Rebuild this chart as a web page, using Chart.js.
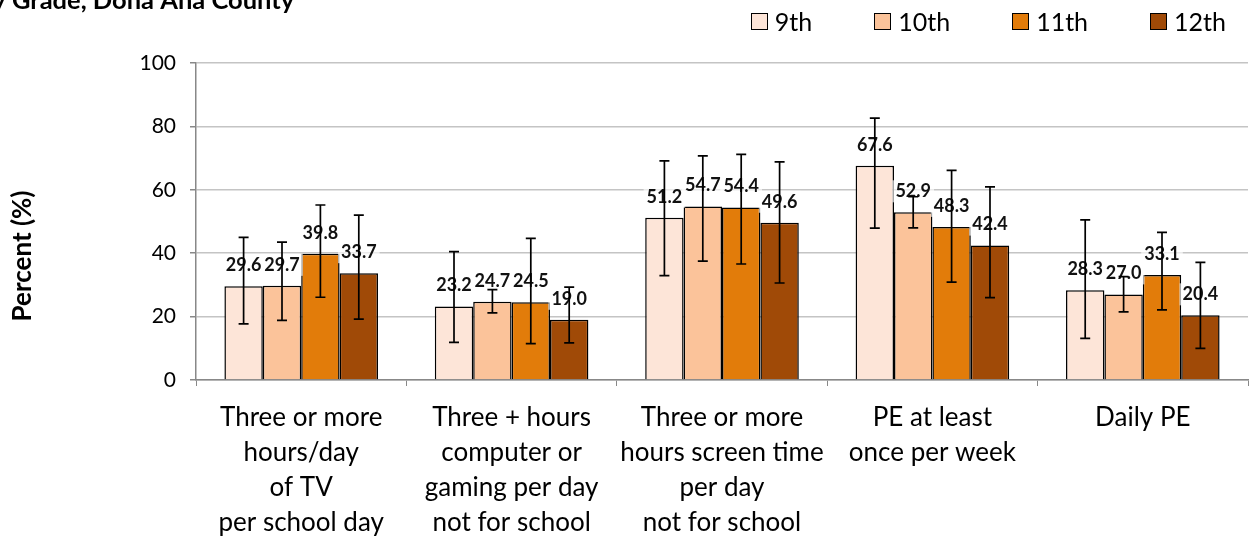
<!DOCTYPE html>
<html>
<head>
<meta charset="utf-8">
<script src="https://cdn.jsdelivr.net/npm/chart.js@4.4.1/dist/chart.umd.min.js"></script>
<style>
  body { margin: 0; background: #fff; }
  #wrap { position: relative; width: 1249px; height: 537px; overflow: hidden; }
  #legend { position: absolute; top: 5px; right: 23px; display: flex; font: 25px/32px Lato, sans-serif; color: #000; }
  #legend .item { display: flex; align-items: center; margin-left: 62px; }
  #legend .item:first-child { margin-left: 0; }
  #legend .box { width: 15px; height: 15px; border: 1.5px solid #000; margin-right: 7px; }
</style>
</head>
<body>
<div id="wrap">
  <canvas id="myChart" width="1249" height="537"></canvas>
  <div id="legend"></div>
</div>
<script>
const categories = [
  ['Three or more', 'hours/day', 'of TV', 'per school day'],
  ['Three + hours', 'computer or', 'gaming per day', 'not for school'],
  ['Three or more', 'hours screen time', 'per day', 'not for school'],
  ['PE at least', 'once per week'],
  ['Daily PE']
];
const grades = ['9th', '10th', '11th', '12th'];
const colors = ['#FDE5D8', '#FBC39A', '#E27C0A', '#A04A07'];

const grade9 = [29.6, 23.2, 51.2, 67.6, 28.3];
const grade10 = [29.7, 24.7, 54.7, 52.9, 27.0];
const grade11 = [39.8, 24.5, 54.4, 48.3, 33.1];
const grade12 = [33.7, 19.0, 49.6, 42.4, 20.4];

// 95% confidence limits
const low9 = [17.7, 11.9, 32.9, 47.9, 13.1];
const high9 = [45.0, 40.5, 69.1, 82.6, 50.5];
const low10 = [18.8, 21.2, 37.5, 48.0, 21.5];
const high10 = [43.5, 28.5, 70.7, 57.8, 32.6];
const low11 = [26.1, 11.5, 36.6, 30.9, 22.1];
const high11 = [55.2, 44.7, 71.2, 66.1, 46.6];
const low12 = [19.2, 11.7, 30.6, 26.0, 10.0];
const high12 = [52.0, 29.3, 68.8, 60.9, 37.1];

const yTicks = [0, 20, 40, 60, 80, 100];
const titleText = 'by Grade, Dona Ana County';
const yTitle = 'Percent (%)';

const values = [grade9, grade10, grade11, grade12];
const lows = [low9, low10, low11, low12];
const highs = [high9, high10, high11, high12];

// legend
const legend = document.getElementById('legend');
grades.forEach((g, i) => {
  const item = document.createElement('div');
  item.className = 'item';
  const box = document.createElement('div');
  box.className = 'box';
  box.style.background = colors[i];
  const txt = document.createElement('span');
  txt.textContent = g;
  item.appendChild(box);
  item.appendChild(txt);
  legend.appendChild(item);
});

const extras = {
  id: 'extras',
  afterDatasetsDraw(chart) {
    const ctx = chart.ctx;
    const y = chart.scales.y;
    ctx.save();
    // value labels
    ctx.font = 'bold 18px Lato, sans-serif';
    ctx.textAlign = 'center';
    ctx.textBaseline = 'middle';
    chart.data.datasets.forEach((ds, i) => {
      chart.getDatasetMeta(i).data.forEach((bar, j) => {
        const t = ds.data[j].toFixed(1);
        const cy = bar.y - 21;
        const w = ctx.measureText(t).width;
        ctx.fillStyle = 'rgba(255,255,255,0.65)';
        ctx.fillRect(bar.x - w / 2 - 3, cy - 11, w + 6, 22);
        ctx.fillStyle = '#111';
        ctx.fillText(t, bar.x, cy);
      });
    });
    // error bars
    ctx.strokeStyle = '#000';
    ctx.lineWidth = 1.7;
    chart.data.datasets.forEach((ds, i) => {
      chart.getDatasetMeta(i).data.forEach((bar, j) => {
        const top = y.getPixelForValue(highs[i][j]);
        const bot = y.getPixelForValue(lows[i][j]);
        ctx.beginPath();
        ctx.moveTo(bar.x, top); ctx.lineTo(bar.x, bot);
        ctx.moveTo(bar.x - 5, top); ctx.lineTo(bar.x + 5, top);
        ctx.moveTo(bar.x - 5, bot); ctx.lineTo(bar.x + 5, bot);
        ctx.stroke();
      });
    });
    // clipped title
    ctx.font = 'bold 25.5px Lato, sans-serif';
    ctx.textAlign = 'left';
    ctx.textBaseline = 'alphabetic';
    ctx.fillStyle = '#000';
    ctx.fillText(titleText, 12 - ctx.measureText('by ').width, 9);
    // y axis title
    ctx.translate(23, 256);
    ctx.rotate(-Math.PI / 2);
    ctx.font = 'bold 26px Lato, sans-serif';
    ctx.textAlign = 'center';
    ctx.textBaseline = 'middle';
    ctx.fillText(yTitle, 0, 0);
    ctx.restore();
  }
};

new Chart(document.getElementById('myChart'), {
  type: 'bar',
  data: {
    labels: categories,
    datasets: grades.map((g, i) => ({
      label: g,
      data: values[i],
      backgroundColor: colors[i],
      borderColor: '#000',
      borderWidth: 1.5,
      categoryPercentage: 0.73,
      barPercentage: 1.0
    }))
  },
  options: {
    responsive: false,
    animation: false,
    layout: { padding: { top: 63, right: 1, left: 0, bottom: 0 } },
    plugins: {
      legend: { display: false },
      tooltip: { enabled: false }
    },
    scales: {
      x: {
        grid: { drawOnChartArea: false, color: '#888', tickLength: 6 },
        border: { color: '#888', width: 1.5 },
        ticks: { color: '#000', font: { family: 'Lato', size: 26, lineHeight: 1.35 }, padding: 14, maxRotation: 0, autoSkip: false },
        afterFit(scale) { scale.height = 157; }
      },
      y: {
        min: 0,
        max: 100,
        afterBuildTicks(scale) { scale.ticks = yTicks.map(v => ({ value: v })); },
        grid: { color: '#c4c4c4', lineWidth: 1.5, tickLength: 6, tickColor: '#888' },
        border: { color: '#888', width: 1.5 },
        ticks: { color: '#000', font: { family: 'Lato', size: 21 }, padding: 14 },
        afterFit(scale) { scale.width = 196; }
      }
    }
  },
  plugins: [extras]
});
</script>
</body>
</html>
